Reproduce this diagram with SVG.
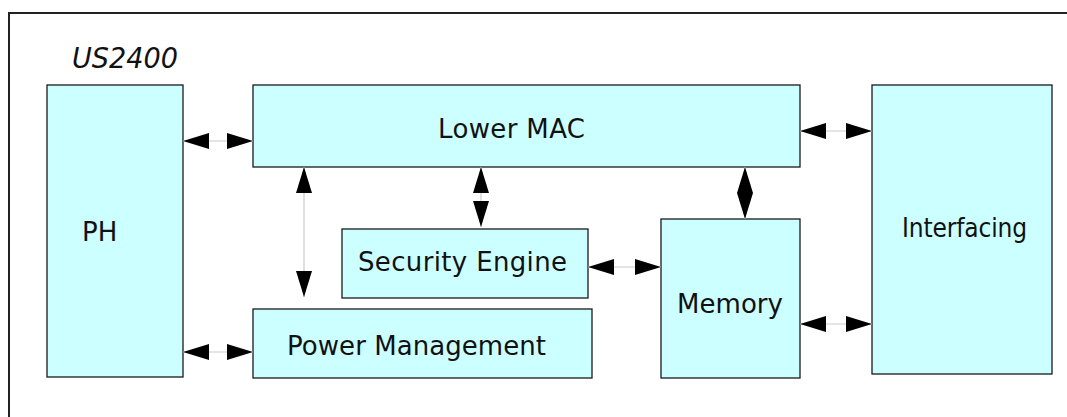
<svg xmlns="http://www.w3.org/2000/svg" width="1067" height="417" viewBox="0 0 1067 417">
  <defs>
    <marker id="ah" viewBox="0 0 26 16" refX="26" refY="8" markerWidth="26" markerHeight="16" markerUnits="userSpaceOnUse" orient="auto-start-reverse">
      <path d="M0,0 L26,8 L0,16 Z" fill="#000"/>
    </marker>
    <style>
      .box { fill: #ccffff; stroke: #1a1a1a; stroke-width: 1.3; }
      .lbl { font-family: "DejaVu Sans", Verdana, sans-serif; font-size: 26px; fill: #111; }
      .cond { font-family: "DejaVu Sans Condensed", "DejaVu Sans", sans-serif; }
      .con { stroke: #cccccc; stroke-width: 1.2; fill: none; marker-start: url(#ah); marker-end: url(#ah); }
    </style>
  </defs>
  <rect x="0" y="0" width="1067" height="417" fill="#fff"/>
  <rect x="9" y="13" width="1100" height="500" fill="none" stroke="#222" stroke-width="2"/>
  <text class="cond" x="72" y="68" font-style="italic" font-size="28" fill="#111" textLength="106" lengthAdjust="spacingAndGlyphs">US2400</text>

  <g id="node-ph">
    <rect class="box" x="47" y="85" width="136" height="292"/>
    <text class="lbl" x="82" y="241">PH</text>
  </g>
  <g id="node-lowermac">
    <rect class="box" x="253" y="85" width="547" height="82"/>
    <text class="lbl" x="438" y="138" textLength="147">Lower MAC</text>
  </g>
  <g id="node-security">
    <rect class="box" x="342" y="229" width="246" height="69"/>
    <text class="lbl" x="358" y="271" textLength="209">Security Engine</text>
  </g>
  <g id="node-power">
    <rect class="box" x="253" y="309" width="339" height="69"/>
    <text class="lbl" x="287" y="355" textLength="259">Power Management</text>
  </g>
  <g id="node-memory">
    <rect class="box" x="661" y="219" width="139" height="159"/>
    <text class="lbl" x="677" y="313" textLength="106">Memory</text>
  </g>
  <g id="node-interfacing">
    <rect class="box" x="872" y="85" width="180" height="289"/>
    <text class="lbl cond" x="902" y="237" textLength="125">Interfacing</text>
  </g>

  <g id="connectors">
    <line class="con" x1="183" y1="141" x2="253" y2="141"/>
    <line class="con" x1="800" y1="131" x2="872" y2="131"/>
    <line class="con" x1="304" y1="167" x2="304" y2="297"/>
    <line class="con" x1="481" y1="167" x2="481" y2="227"/>
    <line class="con" x1="745" y1="167" x2="745" y2="219"/>
    <line class="con" x1="588" y1="267" x2="661" y2="267"/>
    <line class="con" x1="183" y1="352" x2="253" y2="352"/>
    <line class="con" x1="800" y1="324" x2="872" y2="324"/>
  </g>
</svg>
